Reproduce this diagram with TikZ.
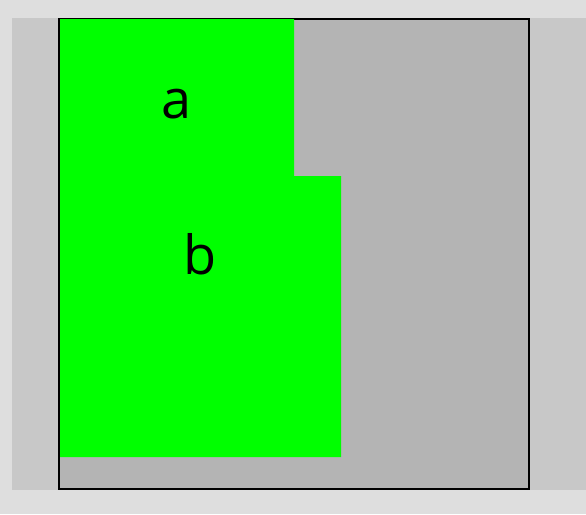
\documentclass[tikz,border=0pt]{standalone}
\usepackage{fontspec}
\setmainfont{Open Sans}
\definecolor{page}{RGB}{222,222,222}
\definecolor{frame}{RGB}{200,200,200}
\definecolor{field}{RGB}{180,180,180}
\definecolor{zone}{RGB}{0,255,0}
\usetikzlibrary{positioning}
\tikzset{
  zonelabel/.style={font=\fontsize{54}{60}\selectfont, inner sep=0pt, anchor=base},
  border/.style={draw=black, line width=2pt},
}
\begin{document}
\begin{tikzpicture}[x=1pt,y=-1pt]
        \useasboundingbox (0,0) rectangle (586,514);
        \fill[page] (0,0) rectangle (586,514);
        \fill[frame] (12,18) rectangle (586,490);
        \fill[field] (59,18) rectangle (529,489);
        \draw[border] (59,19) rectangle (529,489);
        % green zones a and b
        \fill[zone] (60,19) -- (294,19) -- (294,176) -- (341,176) -- (341,457) -- (60,457) -- cycle;
        \node[zonelabel] (a) at (176.5,118) {a};
        \node[zonelabel] (b) at (200.5,274) {b};
\end{tikzpicture}
\end{document}
